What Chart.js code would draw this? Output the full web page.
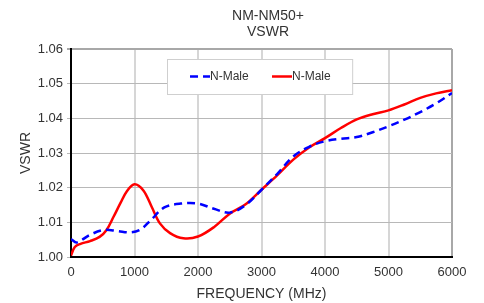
<!DOCTYPE html>
<html>
<head>
<meta charset="utf-8">
<script src="https://cdn.jsdelivr.net/npm/chart.js@4/dist/chart.umd.min.js"></script>
<style>
  html, body { margin: 0; padding: 0; background: #fff; }
  #wrap { width: 484px; height: 303px; }
</style>
</head>
<body>
<div id="wrap"><canvas id="vswr" width="484" height="303"></canvas></div>
<script>
const titleLines = ['NM-NM50+', 'VSWR'];
const xTicks = [0, 1000, 2000, 3000, 4000, 5000, 6000];
const yTicks = [1.00, 1.01, 1.02, 1.03, 1.04, 1.05, 1.06];

const blueFreq = [0, 90, 300, 520, 730, 940, 1100, 1260, 1470, 1730, 2000, 2250, 2500, 2750, 3000, 3250, 3500, 3750, 4000, 4250, 4500, 4750, 5000, 5250, 5500, 5750, 6000];
const blueVswr = [1.0052, 1.0042, 1.0064, 1.0078, 1.0075, 1.0071, 1.0080, 1.0107, 1.0143, 1.0154, 1.0154, 1.0139, 1.0128, 1.0150, 1.0194, 1.0240, 1.0290, 1.0318, 1.0334, 1.0341, 1.0346, 1.0360, 1.0377, 1.0396, 1.0418, 1.0443, 1.0473];

const redFreq = [0, 60, 150, 300, 450, 560, 670, 780, 880, 1000, 1140, 1270, 1400, 1560, 1770, 2000, 2250, 2500, 2750, 3000, 3250, 3500, 3750, 4000, 4250, 4500, 4750, 5000, 5250, 5500, 5750, 6000];
const redVswr = [1.0004, 1.0029, 1.0038, 1.0046, 1.0058, 1.0078, 1.0116, 1.0156, 1.0190, 1.0210, 1.0192, 1.0145, 1.0097, 1.0069, 1.0054, 1.0059, 1.0086, 1.0125, 1.0152, 1.0194, 1.0236, 1.0281, 1.0316, 1.0343, 1.0372, 1.0397, 1.0412, 1.0423, 1.0440, 1.0459, 1.0472, 1.0481];

const seriesNames = ['N-Male', 'N-Male'];

const pts = (xs, ys) => xs.map((x, i) => ({ x: x, y: ys[i] }));

// nudge the title a little right, the original is not centred exactly on the plot
const titleNudge = {
  id: 'titleNudge',
  afterLayout(chart) {
    if (chart.titleBlock) chart.titleBlock.left += 13;
  }
};

// legend box sits inside the plot, like the original spreadsheet chart
const insideLegend = {
  id: 'insideLegend',
  afterDatasetsDraw(chart) {
    const { ctx, chartArea: a } = chart;
    const w = a.right - a.left;
    const x0 = a.left + w * 0.252, x1 = a.left + w * 0.738;
    const y0 = a.top + 10, y1 = a.top + 45;
    ctx.save();
    ctx.fillStyle = '#fff';
    ctx.fillRect(x0, y0, x1 - x0, y1 - y0);
    ctx.strokeStyle = '#cfcfcf';
    ctx.lineWidth = 1;
    ctx.strokeRect(x0 + 0.5, y0 + 0.5, x1 - x0, y1 - y0);
    const yMid = (y0 + y1) / 2;
    const items = [{ sx: x0 + 23 }, { sx: x0 + 105 }];
    ctx.font = '12px "Liberation Sans", Arial, sans-serif';
    ctx.textBaseline = 'middle';
    chart.data.datasets.forEach((ds, i) => {
      const sx = items[i].sx;
      ctx.beginPath();
      ctx.strokeStyle = ds.borderColor;
      ctx.lineWidth = 2.5;
      ctx.setLineDash(ds.borderDash || []);
      ctx.moveTo(sx, yMid);
      ctx.lineTo(sx + 20, yMid);
      ctx.stroke();
      ctx.setLineDash([]);
      ctx.fillStyle = '#333';
      ctx.fillText(ds.label, sx + 20, yMid);
    });
    ctx.restore();
  }
};

const ctx = document.getElementById('vswr').getContext('2d');
new Chart(ctx, {
  type: 'line',
  data: {
    datasets: [
      {
        label: seriesNames[0],
        data: pts(blueFreq, blueVswr),
        borderColor: '#0000ff',
        borderWidth: 2.5,
        borderDash: [8, 5],
        pointRadius: 0,
        tension: 0.35,
        fill: false,
      },
      {
        label: seriesNames[1],
        data: pts(redFreq, redVswr),
        borderColor: '#ff0000',
        borderWidth: 2.5,
        pointRadius: 0,
        tension: 0.35,
        fill: false,
      },
    ],
  },
  options: {
    responsive: false,
    animation: false,
    layout: { padding: { left: 18, right: 32, top: 0, bottom: 0 } },
    plugins: {
      legend: { display: false },
      tooltip: { enabled: false },
      title: {
        display: true,
        text: titleLines,
        fullSize: false,
        color: '#333',
        font: { family: '"Liberation Sans", Arial, sans-serif', size: 14, weight: 'normal', lineHeight: '16px' },
        padding: { top: 8, bottom: 9 },
      },
    },
    scales: {
      x: {
        type: 'linear',
        min: 0,
        max: 6000,
        afterBuildTicks: (s) => { s.ticks = xTicks.map(v => ({ value: v })); },
        afterFit: (s) => { s.height = 46; },
        border: { display: true, color: '#000', width: 2 },
        grid: { color: (c) => c.tick && c.tick.value === 6000 ? '#a8a8a8' : '#d6d6d6', lineWidth: 2, drawTicks: false },
        ticks: { color: '#333', padding: 8, callback: (v) => String(v), font: { family: '"Liberation Sans", Arial, sans-serif', size: 13 } },
        title: { display: true, text: 'FREQUENCY (MHz)', color: '#333', padding: { top: 0, bottom: 0 }, font: { family: '"Liberation Sans", Arial, sans-serif', size: 14 } },
      },
      y: {
        min: 1.00,
        max: 1.06,
        afterBuildTicks: (s) => { s.ticks = yTicks.map(v => ({ value: v })); },
        afterFit: (s) => { s.width = 53; },
        border: { display: true, color: '#000', width: 2 },
        grid: { color: (c) => c.tick && c.tick.value === 1.06 ? '#a8a8a8' : '#b8b8b8', lineWidth: (c) => c.tick && c.tick.value === 1.06 ? 2 : 1, tickLength: 4 },
        ticks: { color: '#333', padding: 4, callback: (v) => v.toFixed(2), font: { family: '"Liberation Sans", Arial, sans-serif', size: 13 } },
        title: { display: true, text: 'VSWR', color: '#333', padding: { top: 0, bottom: 0 }, font: { family: '"Liberation Sans", Arial, sans-serif', size: 14 } },
      },
    },
  },
  plugins: [titleNudge, insideLegend],
});
</script>
</body>
</html>
